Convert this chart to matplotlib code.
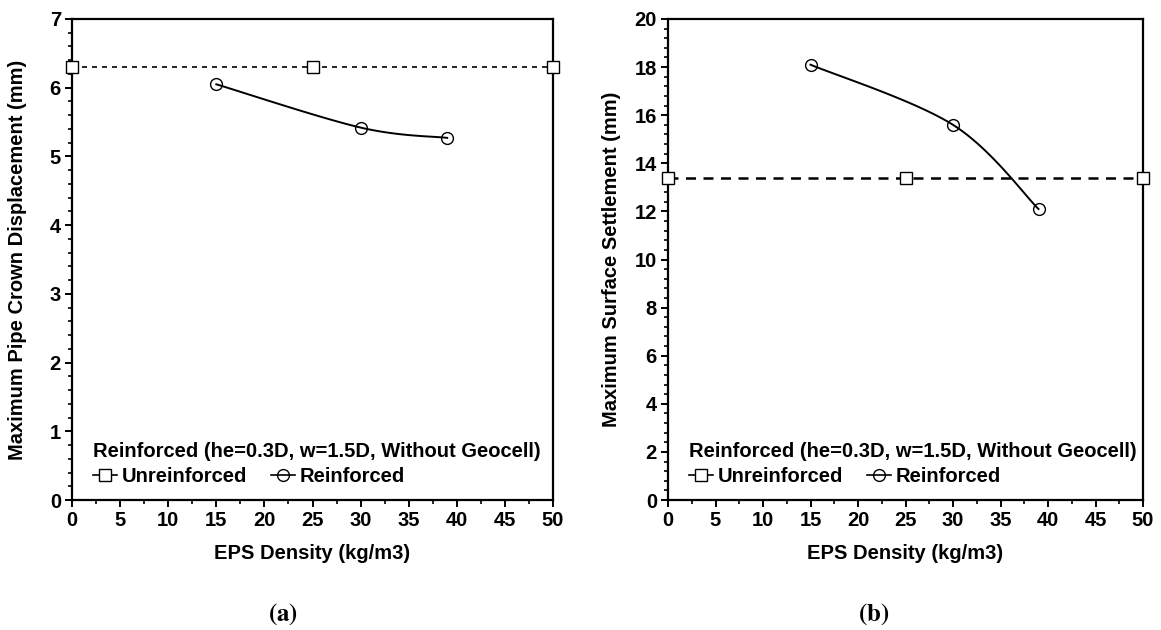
import matplotlib
matplotlib.use("Agg")
import matplotlib.pyplot as plt
from matplotlib.ticker import MultipleLocator
import numpy as np

# data
unreinf_x = [0, 25, 50]
crown_unreinf = [6.3, 6.3, 6.3]
surface_unreinf = [13.4, 13.4, 13.4]

reinf_x = [15, 30, 39]
crown_reinf = [6.05, 5.42, 5.27]
surface_reinf = [18.1, 15.6, 12.1]

legend_title = "Reinforced (he=0.3D, w=1.5D, Without Geocell)"
x_label = "EPS Density (kg/m3)"

plt.rcParams['font.family'] = ['Liberation Sans', 'DejaVu Sans']
plt.rcParams['font.weight'] = 'bold'
plt.rcParams['mathtext.fontset'] = 'stix'

FS = 14.5


def smooth(xs, ys, n=40):
    # Excel-like smoothed line: cubic bezier through the points
    p = np.column_stack([xs, ys]).astype(float)
    out = []
    for i in range(len(p) - 1):
        p0 = p[i - 1] if i > 0 else p[i]
        p3 = p[i + 2] if i + 2 < len(p) else p[i + 1]
        c1 = p[i] + (p[i + 1] - p0) / 6
        c2 = p[i + 1] - (p3 - p[i]) / 6
        t = np.linspace(0, 1, n)[:, None]
        seg = ((1 - t) ** 3 * p[i] + 3 * (1 - t) ** 2 * t * c1
               + 3 * (1 - t) * t ** 2 * c2 + t ** 3 * p[i + 1])
        out.append(seg if i == 0 else seg[1:])
    out = np.vstack(out)
    return out[:, 0], out[:, 1]


def panel(ax, y_un, y_re, ymax, ymajor, yminor, ylabel, dash, dlw, ypad):
    ax.plot(unreinf_x, y_un, color='black', ls=dash, lw=dlw, zorder=2)
    ax.plot(unreinf_x, y_un, ls='none', marker='s', ms=8.5, mfc='white',
            mec='black', mew=1.0, clip_on=False, zorder=3)
    sx, sy = smooth(reinf_x, y_re)
    ax.plot(sx, sy, color='black', lw=1.4, zorder=2)
    ax.plot(reinf_x, y_re, ls='none', marker='o', ms=8.5, mfc='none',
            mec='black', mew=1.0, zorder=3)

    # legend handles
    h1, = ax.plot([], [], color='black', lw=1.2, marker='s', ms=8.5,
                  mfc='white', mec='black', mew=1.0)
    h2, = ax.plot([], [], color='black', lw=1.2, marker='o', ms=8.5,
                  mfc='none', mec='black', mew=1.0)
    leg = ax.legend([h1, h2], ['Unreinforced', 'Reinforced'], ncol=2,
                    loc='lower left', bbox_to_anchor=(0.015, 0.0),
                    frameon=False, title=legend_title, handlelength=1.2,
                    handletextpad=0.2, columnspacing=1.2,
                    borderaxespad=0.3, labelspacing=0.3,
                    prop={'size': FS, 'weight': 'bold'},
                    title_fontproperties={'size': FS, 'weight': 'bold'})
    leg._legend_box.align = 'left'

    ax.set_xlim(0, 50)
    ax.set_ylim(0, ymax)
    ax.xaxis.set_major_locator(MultipleLocator(5))
    ax.xaxis.set_minor_locator(MultipleLocator(2.5))
    ax.yaxis.set_major_locator(MultipleLocator(ymajor))
    ax.yaxis.set_minor_locator(MultipleLocator(yminor))
    ax.tick_params(which='major', direction='out', length=5, width=1.4,
                   labelsize=FS, pad=3)
    ax.tick_params(which='minor', direction='out', length=3, width=1.2)
    for t in ax.get_xticklabels() + ax.get_yticklabels():
        t.set_fontweight('bold')
    for s in ax.spines.values():
        s.set_linewidth(1.6)
    ax.set_xlabel(x_label, fontsize=FS, fontweight='bold', labelpad=10)
    ax.set_ylabel(ylabel, fontsize=FS, fontweight='bold', labelpad=ypad)


fig = plt.figure(figsize=(11.61, 6.30), dpi=100)
W, H = 1161, 630
ax1 = fig.add_axes([72 / W, 1 - 500 / H, (553 - 72) / W, (500 - 19) / H])
ax2 = fig.add_axes([668 / W, 1 - 500 / H, (1143 - 668) / W, (500 - 19) / H])

panel(ax1, crown_unreinf, crown_reinf, 7, 1, 0.2,
      "Maximum Pipe Crown Displacement (mm)", (0, (3, 3)), 1.2, 16)
panel(ax2, surface_unreinf, surface_reinf, 20, 2, 0.4,
      "Maximum Surface Settlement (mm)", (0, (4, 3)), 1.8, 10)

fig.text(283 / W, 1 - 614 / H, r'$(\mathbf{a})$', fontsize=18,
         ha='center', va='center')
fig.text(874 / W, 1 - 614 / H, r'$(\mathbf{b})$', fontsize=18,
         ha='center', va='center')

fig.savefig("out.png", dpi=100)
